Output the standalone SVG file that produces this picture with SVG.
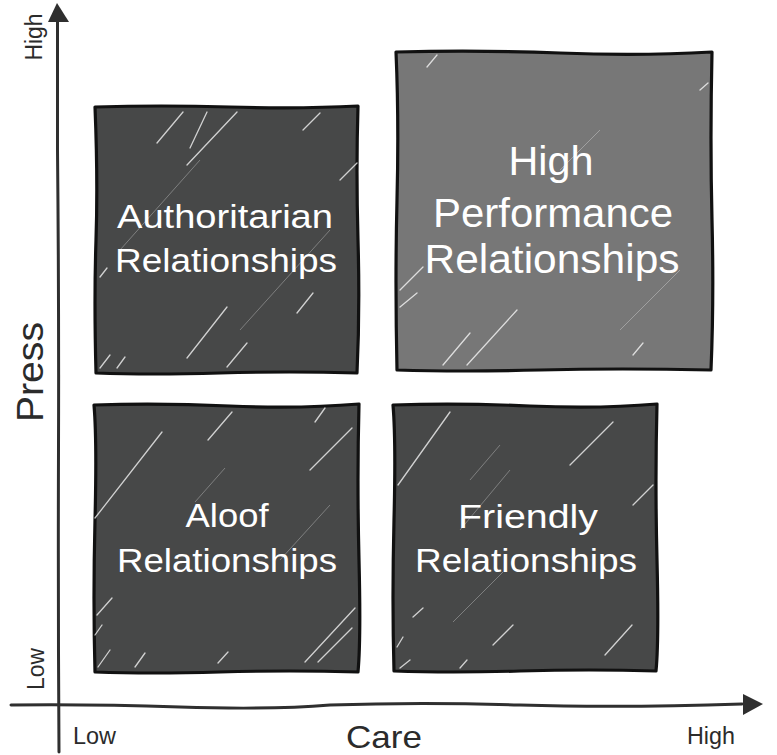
<svg xmlns="http://www.w3.org/2000/svg" width="777" height="755" viewBox="0 0 777 755">
<style>
.box{stroke:#111;stroke-width:3.2;stroke-linejoin:round;stroke-linecap:round}
.dark{fill:#474848}
.mid{fill:#777777}
.hatch{stroke:#fff;stroke-width:1.3;stroke-linecap:round;opacity:0.75;fill:none}
.faint{stroke:#fff;stroke-width:1;opacity:0.3;fill:none}
.lbl{fill:#fff;font-family:"Liberation Sans",Arial,sans-serif;text-anchor:middle}
.ax{fill:#2b2b2b;font-family:"Liberation Sans",Arial,sans-serif}
.axis{stroke:#2f2f2f;stroke-width:3;fill:none;stroke-linecap:round}
</style>
<rect width="777" height="755" fill="#fff"/>
<g id="axes">
<path class="axis" d="M59,752 Q58,600 58.5,450 T57.5,150 L57.5,20"/>
<path fill="#2f2f2f" d="M57,3 L69,22 L48,22 Z"/>
<path class="axis" d="M11,705 Q90,704 180,707 T330,705 Q420,702 520,705 T742,704"/>
<path fill="#2f2f2f" d="M763,704 L743,694 L743,715 Z"/>
</g>
<g id="axis-labels">
<text class="ax" font-size="23" text-anchor="middle" textLength="47" lengthAdjust="spacingAndGlyphs" transform="translate(42,37) rotate(-90)">High</text>
<text class="ax" font-size="23" text-anchor="middle" textLength="42" lengthAdjust="spacingAndGlyphs" transform="translate(44,669) rotate(-90)">Low</text>
<text class="ax" font-size="36" text-anchor="middle" textLength="100" lengthAdjust="spacingAndGlyphs" transform="translate(43,372) rotate(-90)">Press</text>
<text class="ax" font-size="32" text-anchor="middle" x="384" y="748" textLength="76" lengthAdjust="spacingAndGlyphs">Care</text>
<text class="ax" font-size="23" x="73" y="744" textLength="43" lengthAdjust="spacingAndGlyphs">Low</text>
<text class="ax" font-size="23" x="687" y="744" textLength="48" lengthAdjust="spacingAndGlyphs">High</text>
</g>
<g id="authoritarian">
<path class="box dark" d="M95,107 Q160,105 230,107 T358,106 Q356,170 358,240 T357,373 Q290,371 220,373 T96,373 Q94,300 96,240 T95,107 Z"/>
<path class="hatch" d="M157,143L183,112M187,165L237,112M190,148L207,112M303,130L320,113M340,180L357,163M100,277L107,268M100,368L110,355M117,368L125,357M187,358L227,307M227,367L247,343M297,313L313,293"/>
<path class="faint" d="M120,250L200,160M240,330L330,230"/>
<text class="lbl" font-size="34" x="225" y="228" textLength="216" lengthAdjust="spacingAndGlyphs">Authoritarian</text>
<text class="lbl" font-size="34" x="226" y="272" textLength="222" lengthAdjust="spacingAndGlyphs">Relationships</text>
</g>
<g id="high-performance">
<path class="box mid" d="M396,52 Q480,50 560,53 T712,52 Q710,140 712,220 T711,370 Q620,368 540,370 T397,370 Q395,280 397,200 T396,52 Z"/>
<path class="hatch" d="M427,67L437,55M400,290L423,267M400,307L417,293M443,365L470,333M467,365L517,310M633,355L643,343M700,90L708,83"/>
<path class="faint" d="M560,170L600,130M620,330L680,270"/>
<text class="lbl" font-size="40" x="551" y="175" textLength="85" lengthAdjust="spacingAndGlyphs">High</text>
<text class="lbl" font-size="40" x="553" y="227" textLength="240" lengthAdjust="spacingAndGlyphs">Performance</text>
<text class="lbl" font-size="40" x="552" y="273" textLength="255" lengthAdjust="spacingAndGlyphs">Relationships</text>
</g>
<g id="aloof">
<path class="box dark" d="M94,405 Q160,403 230,406 T359,404 Q357,480 359,560 T358,672 Q290,670 220,672 T95,672 Q93,600 95,520 T94,405 Z"/>
<path class="hatch" d="M95,518L162,432M208,440L232,412M310,470L352,428M315,422L325,408M95,635L102,625M98,667L110,650M135,667L145,653M218,663L228,652M305,662L355,608M318,662L352,628M97,615L112,598"/>
<path class="faint" d="M195,502L225,468M280,560L330,505"/>
<text class="lbl" font-size="34" x="227" y="527" textLength="83" lengthAdjust="spacingAndGlyphs">Aloof</text>
<text class="lbl" font-size="34" x="227" y="572" textLength="220" lengthAdjust="spacingAndGlyphs">Relationships</text>
</g>
<g id="friendly">
<path class="box dark" d="M393,405 Q460,403 530,406 T657,404 Q655,480 657,560 T656,671 Q590,669 520,671 T394,671 Q392,600 394,520 T393,405 Z"/>
<path class="hatch" d="M398,485L450,412M570,465L613,422M633,505L653,485M413,617L423,608M397,647L403,637M400,668L410,660M460,668L467,660M493,645L513,625M605,655L632,625"/>
<path class="faint" d="M453,622L503,572M460,530L510,470M470,480L500,445"/>
<text class="lbl" font-size="34" x="528" y="528" textLength="140" lengthAdjust="spacingAndGlyphs">Friendly</text>
<text class="lbl" font-size="34" x="526" y="572" textLength="222" lengthAdjust="spacingAndGlyphs">Relationships</text>
</g>
</svg>
